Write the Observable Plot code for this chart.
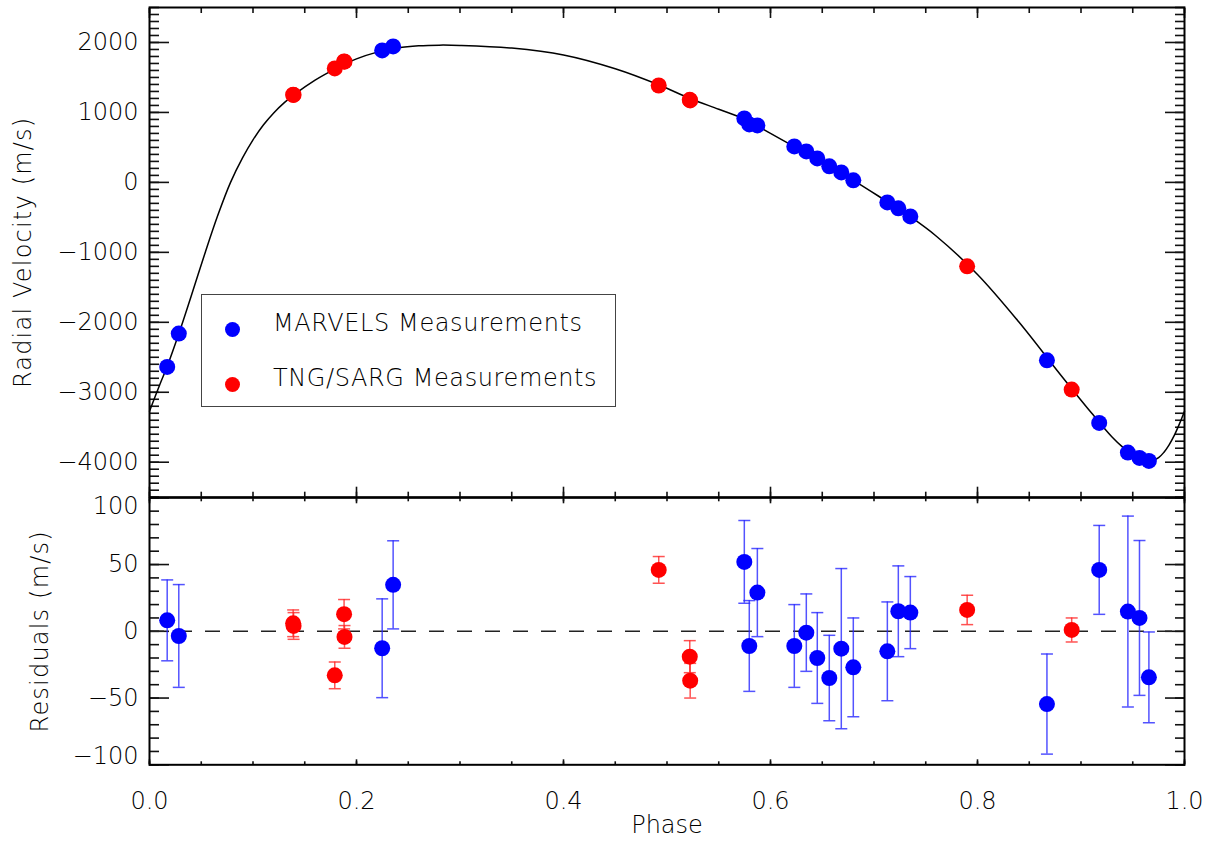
<!DOCTYPE html>
<html><head><meta charset="utf-8">
<script src="https://cdn.jsdelivr.net/npm/d3@7"></script>
<script src="https://cdn.jsdelivr.net/npm/@observablehq/plot@0.6"></script>
<style>
body{margin:0;background:#fff;}
#chart{position:relative;width:1214px;height:844px;font-family:"DejaVu Sans",sans-serif;font-weight:200;}
#chart svg{position:absolute;left:0;overflow:visible;}
#legend{position:absolute;left:201px;top:294px;width:413px;height:111px;border:1px solid #444;background:#fff;font-size:24px;color:#000;letter-spacing:0.6px;font-weight:200;}
#legend .row{position:absolute;left:0;height:30px;width:100%;}
#legend .dot{position:absolute;width:15px;height:15px;border-radius:50%;}
#legend .lab{position:absolute;left:71px;white-space:nowrap;line-height:30px;}
</style></head>
<body>
<div id="chart"></div>
<script>
// ---- data ----
const marvelsPhase = [0.0171,0.0283,0.2248,0.2354,0.5747,0.5795,0.5873,0.6230,0.6346,0.6452,0.6568,0.6684,0.6800,0.7129,0.7235,0.7351,0.8671,0.9176,0.9453,0.9565,0.9656];
const marvelsRV    = [-2638,-2161,1886,1943,914,829,814,514,443,343,229,143,29,-286,-371,-486,-2543,-3438,-3862,-3938,-3981];
const marvelsRes   = [8.2,-3.5,-12.7,34.8,52,-11,29,-11,-1,-20,-35,-13,-27,-15,15,14,-54.5,46,14.8,10,-34.5];
const marvelsErr   = [30.3,38.5,37,33,31,34,33,31,29,34,32,60,37,37,34,27,37.5,33.3,71.5,58,34];

const sargPhase = [0.1388,0.1392,0.1790,0.1880,0.1884,0.4920,0.5220,0.5224,0.7900,0.8910];
const sargRV    = [1253,1250,1629,1729,1725,1385,1180,1172,-1200,-2962];
const sargRes   = [6,4,-33,12.8,-4.2,46,-19,-37,16,1];
const sargErr   = [10,10,10,11,8.5,10,12,13,11,9];

const modelPhase = [0,0.01,0.0171,0.0283,0.04,0.054,0.066,0.0783,0.09,0.10,0.11,0.12,0.13,0.14,0.16,0.18,0.20,0.22,0.24,0.26,0.28,0.30,0.35,0.40,0.45,0.492,0.522,0.55,0.5747,0.60,0.623,0.65,0.68,0.71,0.735,0.76,0.80,0.84,0.88,0.91,0.93,0.94,0.95,0.958,0.964,0.968,0.975,0.98,0.985,0.99,0.995,1.0];
const modelRV    = [-3270,-2888,-2630,-2165,-1638,-994,-471,0,353,608,820,993,1136,1257,1462,1627,1765,1862,1922,1952,1962,1958,1920,1822,1625,1395,1200,1045,905,700,510,280,30,-250,-490,-766,-1316,-1996,-2746,-3294,-3640,-3780,-3885,-3945,-3975,-3984,-3935,-3860,-3755,-3620,-3455,-3270];

const rvTicks = [-4000,-3000,-2000,-1000,0,1000,2000];
const resTicks = [-50,0,50];
const resEdgeTicks = [100,-100];
const phaseTicks = [0,0.2,0.4,0.6,0.8,1.0];
const seriesNames = ["MARVELS Measurements","TNG/SARG Measurements"];
const seriesColors = ["#0000ff","#ff0000"];
const barColors = ["rgba(40,40,255,0.8)","rgba(255,40,40,0.8)"];

// ---- tables ----
const pts = [
  ...marvelsPhase.map((p,i)=>({phase:p, rv:marvelsRV[i], res:marvelsRes[i], err:marvelsErr[i], s:0})),
  ...sargPhase.map((p,i)=>({phase:p, rv:sargRV[i], res:sargRes[i], err:sargErr[i], s:1}))
];
const model = modelPhase.map((p,i)=>({phase:p, rv:modelRV[i]}));
const rvMinor = d3.range(-4500, 2501, 100);
const resMinor = d3.range(-100, 101, 10);
const phaseMinor = d3.range(0, 1.0001, 0.05);

const FONT = '"DejaVu Sans", sans-serif';
const style = {fontFamily: FONT, fontSize: "24px", fontWeight: 200, color: "#000", background: "transparent", overflow: "visible"};
const none = () => "";

// inward ticks on all four sides
function frameAxes(yMinor, yMajor, xMinLen, xMajLen, yMinLen, yMajLen) {
  const o = {label: null, tickFormat: none, stroke: "#111", strokeWidth: 1.6};
  return [
    Plot.axisY(yMinor, {anchor: "left", tickSize: yMinLen, dx: yMinLen, ...o}),
    Plot.axisY(yMajor, {anchor: "left", tickSize: yMajLen, dx: yMajLen, ...o}),
    Plot.axisY(yMinor, {anchor: "right", tickSize: yMinLen, dx: -yMinLen, ...o}),
    Plot.axisY(yMajor, {anchor: "right", tickSize: yMajLen, dx: -yMajLen, ...o}),
    Plot.axisX(phaseMinor, {anchor: "bottom", tickSize: xMinLen, dy: -xMinLen, ...o}),
    Plot.axisX(phaseTicks, {anchor: "bottom", tickSize: xMajLen, dy: -xMajLen, ...o}),
    Plot.axisX(phaseMinor, {anchor: "top", tickSize: xMinLen, dy: xMinLen, ...o}),
    Plot.axisX(phaseTicks, {anchor: "top", tickSize: xMajLen, dy: xMajLen, ...o})
  ];
}

const capSymbol = {draw(ctx) { ctx.moveTo(-6, 0); ctx.lineTo(6, 0); }};

const topPlot = Plot.plot({
  width: 1214, height: 500,
  marginLeft: 149, marginRight: 30, marginTop: 7, marginBottom: 3.3,
  style,
  x: {domain: [0, 1], label: null},
  y: {domain: [-4500, 2500], label: null},
  marks: [
    ...frameAxes(rvMinor, rvTicks, 5, 10, 10, 20),
    Plot.axisY(rvTicks, {anchor: "left", tickSize: 0, tickPadding: 11, tickFormat: d3.format("d"), label: null}),
    Plot.line(model, {x: "phase", y: "rv", curve: "catmull-rom", stroke: "#000", strokeWidth: 1.5}),
    Plot.dot(pts, {x: "phase", y: "rv", r: 8, fill: d => seriesColors[d.s], stroke: "none"}),
    Plot.frame({stroke: "#000", strokeWidth: 2}),
    Plot.text(["Radial Velocity (m/s)"], {text: d => d, frameAnchor: "left", textAnchor: "middle", rotate: -90, dx: -126, fontSize: 24, fill: "#000"})
  ]
});
topPlot.style.top = "0px";

const botPlot = Plot.plot({
  width: 1214, height: 354,
  marginLeft: 149, marginRight: 30, marginTop: 7.3, marginBottom: 79.7,
  style,
  x: {domain: [0, 1], label: null},
  y: {domain: [-100, 100], label: null},
  marks: [
    ...frameAxes(resMinor, [-100, ...resTicks, 100], 3, 5, 10, 20),
    Plot.axisY(resTicks, {anchor: "left", tickSize: 0, tickPadding: 11, tickFormat: d3.format("d"), label: null}),
    Plot.axisY([resEdgeTicks[0]], {anchor: "left", tickSize: 0, tickPadding: 11, dy: 9, tickFormat: d3.format("d"), label: null}),
    Plot.axisY([resEdgeTicks[1]], {anchor: "left", tickSize: 0, tickPadding: 11, dy: -8, tickFormat: d3.format("d"), label: null}),
    Plot.axisX(phaseTicks, {anchor: "bottom", tickSize: 0, tickPadding: 27, tickFormat: d3.format(".1f"), label: null}),
    Plot.ruleY([0], {stroke: "#222", strokeWidth: 1.6, strokeDasharray: "15,13"}),
    Plot.ruleX(pts, {x: "phase", y1: d => d.res - d.err, y2: d => d.res + d.err, stroke: d => barColors[d.s], strokeWidth: 1.5}),
    Plot.dot(pts, {x: "phase", y: d => d.res - d.err, symbol: capSymbol, r: 6, stroke: d => barColors[d.s], strokeWidth: 1.5, fill: "none"}),
    Plot.dot(pts, {x: "phase", y: d => d.res + d.err, symbol: capSymbol, r: 6, stroke: d => barColors[d.s], strokeWidth: 1.5, fill: "none"}),
    Plot.dot(pts, {x: "phase", y: "res", r: 8, fill: d => seriesColors[d.s], stroke: "none"}),
    Plot.frame({stroke: "#000", strokeWidth: 2}),
    Plot.text(["Residuals (m/s)"], {text: d => d, frameAnchor: "left", textAnchor: "middle", rotate: -90, dx: -109, fontSize: 24, fill: "#000"}),
    Plot.text(["Phase"], {text: d => d, frameAnchor: "bottom", dy: 61, lineAnchor: "middle", fontSize: 24, fill: "#000"})
  ]
});
botPlot.style.top = "490px";

// slightly wider tracking on the axis titles, as in the original
for (const svg of [topPlot, botPlot]) {
  d3.select(svg).selectAll("text").filter(function() {
    return /\(m\/s\)/.test(this.textContent);
  }).attr("letter-spacing", "1.2px");
}

const chart = document.getElementById("chart");
chart.append(topPlot, botPlot);

// legend
const legend = document.createElement("div");
legend.id = "legend";
seriesNames.forEach((name, i) => {
  const row = document.createElement("div");
  row.className = "row";
  row.style.top = (13 + i * 55) + "px";
  const dot = document.createElement("div");
  dot.className = "dot";
  dot.style.background = seriesColors[i];
  dot.style.left = "23px"; dot.style.top = "14px";
  const lab = document.createElement("div");
  lab.className = "lab";
  lab.textContent = name;
  row.append(dot, lab);
  legend.append(row);
});
chart.append(legend);
</script>
</body></html>
